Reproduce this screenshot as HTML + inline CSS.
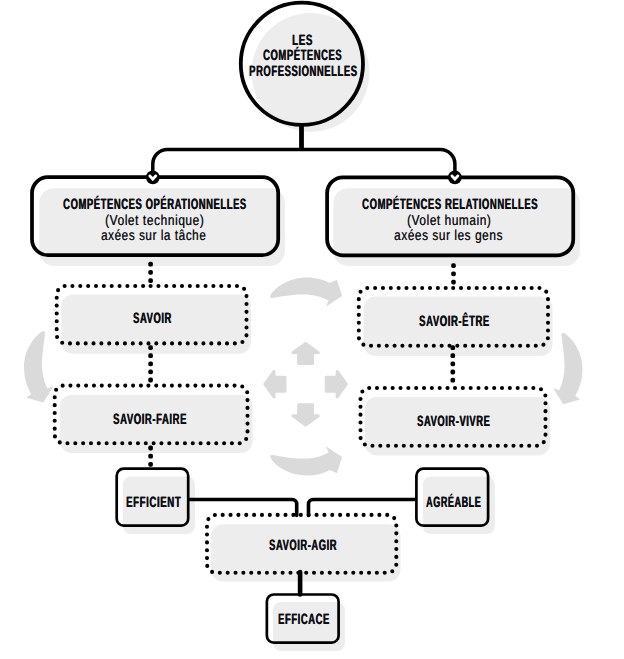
<!DOCTYPE html>
<html lang="fr">
<head>
<meta charset="utf-8">
<title>Les compétences professionnelles</title>
<style>
html,body{margin:0;padding:0;background:#fff;}
body{position:relative;width:624px;height:659px;overflow:hidden;font-family:"Liberation Sans",sans-serif;}
svg{display:block;position:absolute;left:0;top:0;}
.t{position:absolute;white-space:nowrap;text-rendering:geometricPrecision;line-height:20px;transform-origin:0 50%;color:#0d0d14;margin:0;}
.b{font-weight:bold;letter-spacing:0.9px;text-shadow:0.55px 0 0 #0d0d14;}
.r{font-weight:normal;letter-spacing:0.7px;text-shadow:0.3px 0 0 rgba(13,13,20,0.75);}
</style>
</head>
<body>
<svg width="624" height="659" viewBox="0 0 624 659">
<rect width="624" height="659" fill="#fff"/>
<g fill="#ededed">
<ellipse cx="310.5" cy="72.4" rx="58.9" ry="59.5"/>
<rect x="39.2" y="188.2" width="245.7" height="77.8" rx="15" ry="15"/>
<rect x="333.3" y="188.2" width="246.7" height="77.8" rx="15" ry="15"/>
<rect x="61.3" y="294.6" width="189.7" height="59.2" rx="12" ry="12"/>
<rect x="59.8" y="394.8" width="192.8" height="58.2" rx="12" ry="12"/>
<rect x="363.6" y="296.6" width="188.9" height="59.5" rx="12" ry="12"/>
<rect x="365" y="396.8" width="185" height="58.7" rx="12" ry="12"/>
<rect x="211" y="524.3" width="189.5" height="57.1" rx="12" ry="12"/>
<rect x="122.8" y="476.4" width="72.1" height="57.6" rx="8" ry="8"/>
<rect x="422.8" y="476.4" width="72.1" height="57.6" rx="8" ry="8"/>
<rect x="273.1" y="602" width="71.9" height="49" rx="8" ry="8"/>
</g>
<g fill="#dadada">
<path d="M45,333.2 C45,331.4 43.6,330.8 42.2,331.6 C33.5,337 24,351 24,366.5 C24,378 27,387 31.2,394 L26.4,397.8 L43.3,402.6 L53.2,386.6 L47.3,388.5 C43.6,381 42,372 42,364 C42,352 44.2,342 45,333.2 Z"/>
<path d="M45,333.2 C45,331.4 43.6,330.8 42.2,331.6 C33.5,337 24,351 24,366.5 C24,378 27,387 31.2,394 L26.4,397.8 L43.3,402.6 L53.2,386.6 L47.3,388.5 C43.6,381 42,372 42,364 C42,352 44.2,342 45,333.2 Z" transform="translate(606.5,1.7) scale(-1,1)"/>
<path d="M270.6,295.2 C276,286 290,277.5 307.3,277.5 C316,277.5 324,279.8 329.7,283.1 L336.9,279.7 L342.1,295.9 L325.9,306.7 L328.6,300.6 C322,296.8 314,294.4 303,294.4 C292,294.4 281,296.4 272.2,298 C270.4,298.3 269.6,296.8 270.6,295.2 Z"/>
<path d="M270.6,295.2 C276,286 290,277.5 307.3,277.5 C316,277.5 324,279.8 329.7,283.1 L336.9,279.7 L342.1,295.9 L325.9,306.7 L328.6,300.6 C322,296.8 314,294.4 303,294.4 C292,294.4 281,296.4 272.2,298 C270.4,298.3 269.6,296.8 270.6,295.2 Z" transform="translate(0,753) scale(1,-1)"/>
<path d="M0,-40.8 L12.7,-31.6 L7,-31.5 L7,-20.6 L-7,-20.6 L-7,-31.5 L-12.7,-31.6 Z" transform="translate(305.6,384.2) rotate(0)" stroke="#dadada" stroke-width="3" stroke-linejoin="round"/>
<path d="M0,-40.8 L12.7,-31.6 L7,-31.5 L7,-20.6 L-7,-20.6 L-7,-31.5 L-12.7,-31.6 Z" transform="translate(305.6,384.2) rotate(90)" stroke="#dadada" stroke-width="3" stroke-linejoin="round"/>
<path d="M0,-40.8 L12.7,-31.6 L7,-31.5 L7,-20.6 L-7,-20.6 L-7,-31.5 L-12.7,-31.6 Z" transform="translate(305.6,384.2) rotate(180)" stroke="#dadada" stroke-width="3" stroke-linejoin="round"/>
<path d="M0,-40.8 L12.7,-31.6 L7,-31.5 L7,-20.6 L-7,-20.6 L-7,-31.5 L-12.7,-31.6 Z" transform="translate(305.6,384.2) rotate(270)" stroke="#dadada" stroke-width="3" stroke-linejoin="round"/>
</g>
<g fill="none" stroke="#000">
<circle cx="301.9" cy="63.8" r="61.1" stroke-width="3.8"/>
<path d="M301.5,124.5 V149.6" stroke-width="4.8"/>
<path d="M152.8,176 V164.1 A14.5,14.5 0 0 1 167.3,149.6 H440.4 A14.5,14.5 0 0 1 454.9,164.1 V176" stroke-width="3.5"/>
<rect x="32" y="177.15" width="246.2" height="78.05" rx="16" ry="16" stroke-width="3.75"/>
<rect x="327.1" y="177.25" width="246.15" height="78" rx="16" ry="16" stroke-width="3.75"/>
<rect x="116.7" y="468.7" width="71.5" height="57" rx="7" ry="7" stroke-width="2.7"/>
<rect x="416.4" y="468.7" width="71.7" height="57" rx="7" ry="7" stroke-width="2.7"/>
<rect x="266.85" y="594.5" width="71.75" height="48.2" rx="7" ry="7" stroke-width="2.7"/>
<path d="M189.5,499.5 H292.2 A4.5,4.5 0 0 1 296.7,504 V515.5" stroke-width="3.6" stroke-linecap="round"/>
<path d="M415,499.5 H313 A4.5,4.5 0 0 0 308.5,504 V515.5" stroke-width="3.6" stroke-linecap="round"/>
<path d="M300.1,572 V594.5" stroke-width="4.6" stroke-linecap="round"/>
</g>
<g fill="none" stroke="#000" stroke-width="4.1" stroke-linecap="round">
<path d="M150.6,286 H237.5 A9,9 0 0 1 246.5,295 V334.4 A9,9 0 0 1 237.5,343.4 H65.7 A9,9 0 0 1 56.7,334.4 V295 A9,9 0 0 1 65.7,286 Z" stroke-dasharray="0 7.8516"/>
<path d="M148.4,385.6 H238.5 A9,9 0 0 1 247.5,394.6 V434.3 A9,9 0 0 1 238.5,443.3 H63.7 A9,9 0 0 1 54.7,434.3 V394.6 A9,9 0 0 1 63.7,385.6 Z" stroke-dasharray="0 7.8314"/>
<path d="M453.2,288 H539 A9,9 0 0 1 548,297 V336.8 A9,9 0 0 1 539,345.8 H367.8 A9,9 0 0 1 358.8,336.8 V297 A9,9 0 0 1 367.8,288 Z" stroke-dasharray="0 7.8451"/>
<path d="M455,388 H536.5 A9,9 0 0 1 545.5,397 V436.8 A9,9 0 0 1 536.5,445.8 H369.5 A9,9 0 0 1 360.5,436.8 V397 A9,9 0 0 1 369.5,388 Z" stroke-dasharray="0 7.8358"/>
<path d="M300.85,514.9 H387.3 A9,9 0 0 1 396.3,523.9 V563.8 A9,9 0 0 1 387.3,572.8 H216 A9,9 0 0 1 207,563.8 V523.9 A9,9 0 0 1 216,514.9 Z" stroke-dasharray="0 7.8516"/>
<rect x="148.30" y="261.80" width="4.6" height="4.8" rx="1.7" fill="#000" stroke="none"/>
<rect x="148.30" y="270.00" width="4.6" height="4.8" rx="1.7" fill="#000" stroke="none"/>
<rect x="148.30" y="278.20" width="4.6" height="4.8" rx="1.7" fill="#000" stroke="none"/>
<rect x="148.30" y="345.20" width="4.6" height="4.8" rx="1.7" fill="#000" stroke="none"/>
<rect x="148.30" y="353.30" width="4.6" height="4.8" rx="1.7" fill="#000" stroke="none"/>
<rect x="148.30" y="361.40" width="4.6" height="4.8" rx="1.7" fill="#000" stroke="none"/>
<rect x="148.30" y="369.50" width="4.6" height="4.8" rx="1.7" fill="#000" stroke="none"/>
<rect x="148.30" y="377.60" width="4.6" height="4.8" rx="1.7" fill="#000" stroke="none"/>
<rect x="148.30" y="445.60" width="4.6" height="4.8" rx="1.7" fill="#000" stroke="none"/>
<rect x="148.30" y="453.80" width="4.6" height="4.8" rx="1.7" fill="#000" stroke="none"/>
<rect x="148.30" y="461.90" width="4.6" height="4.8" rx="1.7" fill="#000" stroke="none"/>
<rect x="451.20" y="263.20" width="4.6" height="4.8" rx="1.7" fill="#000" stroke="none"/>
<rect x="451.20" y="271.40" width="4.6" height="4.8" rx="1.7" fill="#000" stroke="none"/>
<rect x="451.20" y="279.70" width="4.6" height="4.8" rx="1.7" fill="#000" stroke="none"/>
<rect x="450.50" y="345.30" width="4.6" height="4.8" rx="1.7" fill="#000" stroke="none"/>
<rect x="450.50" y="353.30" width="4.6" height="4.8" rx="1.7" fill="#000" stroke="none"/>
<rect x="450.50" y="361.40" width="4.6" height="4.8" rx="1.7" fill="#000" stroke="none"/>
<rect x="450.50" y="369.60" width="4.6" height="4.8" rx="1.7" fill="#000" stroke="none"/>
<rect x="450.50" y="377.80" width="4.6" height="4.8" rx="1.7" fill="#000" stroke="none"/>
</g>
<circle cx="152.8" cy="177.4" r="6.85" fill="#000"/>
<path d="M152.8,181.3 L148.7,176.8 C147.6,175.2 149.6,173.8 150.9,175.1 L152.8,177.1 L154.7,175.1 C156,173.8 158,175.2 156.9,176.8 Z" fill="#fff"/>
<circle cx="454.9" cy="177.4" r="6.85" fill="#000"/>
<path d="M454.9,181.3 L450.8,176.8 C449.7,175.2 451.7,173.8 453,175.1 L454.9,177.1 L456.8,175.1 C458.1,173.8 460.1,175.2 459,176.8 Z" fill="#fff"/>
</svg>
<div class="t b" style="left:292px;top:31px;font-size:15px;transform:scaleX(0.6543)">LES</div>
<div class="t b" style="left:263px;top:46px;font-size:15px;transform:scaleX(0.6285)">COMPÉTENCES</div>
<div class="t b" style="left:249px;top:62px;font-size:15px;transform:scaleX(0.6307)">PROFESSIONNELLES</div>
<div class="t b" style="left:63px;top:195px;font-size:15px;transform:scaleX(0.6298)">COMPÉTENCES OPÉRATIONNELLES</div>
<div class="t r" style="left:105px;top:211px;font-size:14.6px;transform:scaleX(0.8182)">(Volet technique)</div>
<div class="t r" style="left:101px;top:226px;font-size:14.6px;transform:scaleX(0.8031)">axées sur la tâche</div>
<div class="t b" style="left:362px;top:195px;font-size:15px;transform:scaleX(0.6328)">COMPÉTENCES RELATIONNELLES</div>
<div class="t r" style="left:407px;top:211px;font-size:14.6px;transform:scaleX(0.8113)">(Volet humain)</div>
<div class="t r" style="left:394px;top:226px;font-size:14.6px;transform:scaleX(0.8108)">axées sur les gens</div>
<div class="t b" style="left:133px;top:309px;font-size:15px;transform:scaleX(0.6263)">SAVOIR</div>
<div class="t b" style="left:113px;top:410px;font-size:15px;transform:scaleX(0.6345)">SAVOIR-FAIRE</div>
<div class="t b" style="left:419px;top:312px;font-size:15px;transform:scaleX(0.6348)">SAVOIR-ÊTRE</div>
<div class="t b" style="left:417px;top:412px;font-size:15px;transform:scaleX(0.6247)">SAVOIR-VIVRE</div>
<div class="t b" style="left:269px;top:536px;font-size:15px;transform:scaleX(0.6237)">SAVOIR-AGIR</div>
<div class="t b" style="left:126px;top:493px;font-size:15px;transform:scaleX(0.6438)">EFFICIENT</div>
<div class="t b" style="left:426px;top:493px;font-size:15px;transform:scaleX(0.6039)">AGRÉABLE</div>
<div class="t b" style="left:278px;top:610px;font-size:15px;transform:scaleX(0.6286)">EFFICACE</div>
</body>
</html>
